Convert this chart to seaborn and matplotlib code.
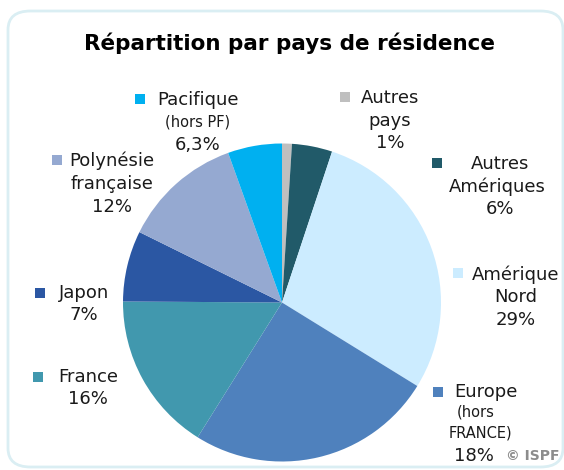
import matplotlib
matplotlib.use("Agg")
import matplotlib.pyplot as plt
import seaborn as sns
from matplotlib.patches import Rectangle, FancyBboxPatch

# slice shares read from the wedges (clockwise from 12 o'clock)
categories = ["Autres pays", "Autres Amériques", "Amérique Nord", "Europe",
              "France", "Japon", "Polynésie française", "Pacifique"]
shares = [1.0, 4.1, 28.7, 25.1, 16.2, 7.2, 12.2, 5.5]
colors = ["#BFBFBF", "#215A69", "#CCECFF", "#4F81BD",
          "#4198AE", "#2B57A3", "#95A9D1", "#00B0F0"]

sns.set_theme(style="white")
plt.rcParams["font.family"] = ["DejaVu Sans"]

W, H = 564, 470
fig = plt.figure(figsize=(W / 100, H / 100), dpi=100)
fig.patch.set_facecolor("white")

def fx(x):
    return x / W

def fy(y):
    return 1 - y / H

# rounded frame
frame = FancyBboxPatch((fx(8), fy(467)), fx(555), (467 - 11) / H,
                       boxstyle="round,pad=0,rounding_size=0.04",
                       transform=fig.transFigure, facecolor="none",
                       edgecolor="#DAEEF3", linewidth=2, clip_on=False)
fig.patches.append(frame)

cx, cy, r = 282, 302.5, 159
ax = fig.add_axes([fx(cx - r), fy(cy + r), 2 * r / W, 2 * r / H])
ax.pie(shares, colors=colors, startangle=90, counterclock=False,
       wedgeprops=dict(linewidth=0))
ax.set_xlim(-1, 1)
ax.set_ylim(-1, 1)
ax.set_aspect("auto")
ax.axis("off")

fig.text(fx(289), fy(43), "Répartition par pays de résidence",
         ha="center", va="center", fontsize=15.5, fontweight="bold", color="black")

big, small = 13, 10.5
# (marker x, marker y, color, lines) ; each line: (x, y, text, size)
labels = [
    (140, 99, colors[7], [(198, 100, "Pacifique", big), (198, 122, "(hors PF)", small),
                          (198, 145, "6,3%", big)]),
    (345, 97, colors[0], [(390, 98, "Autres", big), (390, 121, "pays", big),
                          (390, 143, "1%", big)]),
    (437, 163, colors[1], [(500, 164, "Autres", big), (497, 187, "Amériques", big),
                           (500, 209, "6%", big)]),
    (458, 273, colors[2], [(516, 275, "Amérique", big), (516, 297, "Nord", big),
                           (516, 320, "29%", big)]),
    (438, 392, colors[3], [(486, 392, "Europe", big), (476, 412, "(hors", small),
                           (480, 433, "FRANCE)", small), (474, 456, "18%", big)]),
    (57, 160, colors[6], [(112, 161, "Polynésie", big), (112, 184, "française", big),
                          (112, 207, "12%", big)]),
    (40, 293, colors[5], [(84, 293, "Japon", big), (84, 315, "7%", big)]),
    (38, 377, colors[4], [(88, 377, "France", big), (88, 399, "16%", big)]),
]

for mx, my, col, lines in labels:
    s = 10
    fig.patches.append(Rectangle((fx(mx - s / 2), fy(my + s / 2)), s / W, s / H,
                                 transform=fig.transFigure, facecolor=col,
                                 edgecolor="none"))
    for tx, ty, txt, size in lines:
        fig.text(fx(tx), fy(ty), txt, ha="center", va="center",
                 fontsize=size, color="#1A1A1A")

fig.text(fx(506), fy(456), "© ISPF", ha="left", va="center", fontsize=10,
         fontweight="bold", color="#8C8C8C")

fig.savefig("out.png", dpi=100)
